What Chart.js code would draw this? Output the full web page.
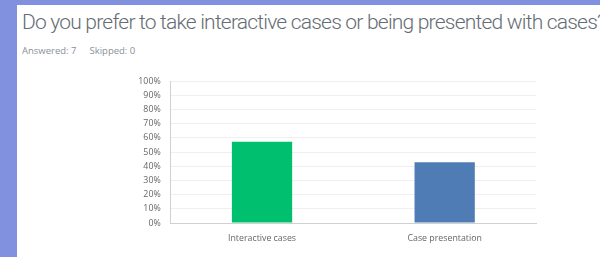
<!DOCTYPE html>
<html>
<head>
<meta charset="utf-8">
<script src="https://cdn.jsdelivr.net/npm/chart.js@4"></script>
<style>
  html, body { margin: 0; padding: 0; width: 600px; height: 258px; overflow: hidden; background: #8191e0; }
  #panel { position: absolute; left: 17px; top: 5px; width: 583px; height: 252px; background: #fff; overflow: hidden; }
  #strip { position: absolute; left: 0; top: 257px; width: 600px; height: 1px; background: #fff; }
  #title { position: absolute; left: 5px; top: 5px; font-family: "Roboto", sans-serif; font-size: 21px; font-weight: 300; color: #656c73; white-space: nowrap; }
  #meta { position: absolute; left: 5px; top: 39px; font-family: "Open Sans", sans-serif; font-size: 9.5px; color: #8a9096; white-space: nowrap; }
  #meta span + span { margin-left: 13px; }
  #wrap { position: absolute; left: 0; top: 60px; width: 600px; height: 195px; }
</style>
</head>
<body>
<div id="panel">
  <div id="title">Do you prefer to take interactive cases or being presented with cases?</div>
  <div id="meta"><span>Answered: 7</span><span>Skipped: 0</span></div>
</div>
<div id="strip"></div>
<div id="wrap"><canvas id="c"></canvas></div>
<script>
const categories = ["Interactive cases", "Case presentation"];
const percentages = [57.14, 42.86];
const barColors = ["#00bf6f", "#507cb6"];
const yTicks = [0, 10, 20, 30, 40, 50, 60, 70, 80, 90, 100];

// fit title width to reference span
(function(){
  const t = document.getElementById('title');
  const txt = "Do you prefer to take interactive cases or being presented with cases";
  const c = document.createElement('canvas').getContext('2d');
  c.font = '300 21px Roboto';
  const w = c.measureText(txt).width;
  const target = 575;
  t.style.letterSpacing = ((target - w) / txt.length) + 'px';
})();

new Chart(document.getElementById('c'), {
  type: 'bar',
  data: {
    labels: categories,
    datasets: [{ data: percentages, backgroundColor: barColors, barPercentage: 0.66, categoryPercentage: 0.5 }]
  },
  options: {
    responsive: true,
    maintainAspectRatio: false,
    animation: false,
    layout: { padding: { left: 100, right: 64, top: 21, bottom: 0 } },
    plugins: { legend: { display: false }, tooltip: { enabled: false } },
    scales: {
      y: {
        min: 0, max: 100,
        afterBuildTicks: (s) => { s.ticks = yTicks.map(v => ({ value: v })); },
        afterFit: (s) => { s.width = 70.7; },
        ticks: { callback: v => v + '%', color: '#666666', font: { family: 'Open Sans', size: 8.8 }, padding: 10 },
        grid: { color: '#efefef', drawTicks: false },
        border: { color: '#d0d0d0' }
      },
      x: {
        afterFit: (s) => { s.height = 32; },
        ticks: { color: '#666666', font: { family: 'Open Sans', size: 8.8 }, padding: 10 },
        grid: { display: false, drawTicks: false },
        border: { color: '#d0d0d0' }
      }
    }
  }
});
</script>
</body>
</html>
